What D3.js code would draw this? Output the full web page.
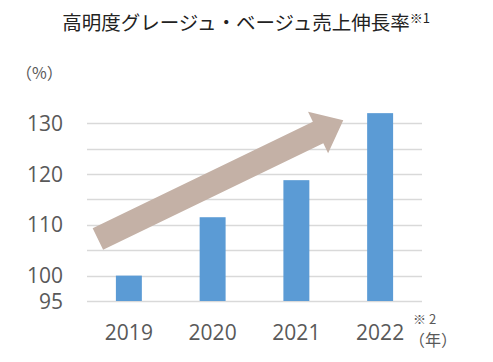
<!DOCTYPE html>
<html><head><meta charset="utf-8">
<script src="https://cdn.jsdelivr.net/npm/d3@7"></script>
<style>body{margin:0;background:#fff}svg{display:block}</style>
</head><body>
<script>
const years = ["2019","2020","2021","2022"];
const values = [100, 111.5, 118.8, 132.0];
const gridTicks = [95,100,105,110,115,120,125,130];
const labelTicks = [95,100,110,120,130];
const title = "高明度グレージュ・ベージュ売上伸長率";
const titleNote = "※1";
const yUnit = "（%）";
const xNote = "※ 2";
const xUnit = "（年）";
// arrow in data coords: [band index position, value]
const arrowFrom = [-0.37, 107.2];
const arrowTo = [2.56, 130.6];

(function(){
const W = 493, H = 362;
const svg = d3.select("body").append("svg").attr("width", W).attr("height", H);
const mLeft = 87, mRight = 422, mTop = 123.3, mBottom = 301;

const x = d3.scaleBand().domain(years).range([mLeft, mRight]).paddingInner(0.69).paddingOuter(0.345);
const y = d3.scaleLinear().domain([95,130]).range([mBottom, mTop]);
const xi = d3.scaleLinear().domain([0, 1]).range([x(years[0]) + x.bandwidth()/2, x(years[1]) + x.bandwidth()/2]);

// grid
svg.append("g").selectAll("line").data(gridTicks).join("line")
  .attr("x1", mLeft).attr("x2", mRight)
  .attr("y1", d => Math.round(y(d)) + 0.5).attr("y2", d => Math.round(y(d)) + 0.5)
  .attr("stroke", "#d9d9d9").attr("stroke-width", 1.5);

// bars
svg.append("g").selectAll("rect").data(values).join("rect")
  .attr("x", (d,i) => x(years[i])).attr("width", x.bandwidth())
  .attr("y", d => y(d)).attr("height", d => y(95) - y(d))
  .attr("fill", "#5b9bd5");

// arrow
{
  const x0 = xi(arrowFrom[0]), y0 = y(arrowFrom[1]);
  const x1 = xi(arrowTo[0]), y1 = y(arrowTo[1]);
  const dx = x1 - x0, dy = y1 - y0, L = Math.hypot(dx, dy);
  const ux = dx/L, uy = dy/L, nx = -uy, ny = ux;
  const sw = 12, hw = 23, hl = 28;
  const bx = x1 - ux*hl, by = y1 - uy*hl;
  const pts = [
    [x0 + nx*sw, y0 + ny*sw],
    [bx + nx*sw, by + ny*sw],
    [bx + nx*hw, by + ny*hw],
    [x1, y1],
    [bx - nx*hw, by - ny*hw],
    [bx - nx*sw, by - ny*sw],
    [x0 - nx*sw, y0 - ny*sw]
  ];
  svg.append("polygon").attr("points", pts.map(p => p.join(",")).join(" "))
    .attr("fill", "#c4b1a6");
}

// y labels
svg.append("g").selectAll("text").data(labelTicks).join("text")
  .attr("x", 63).attr("y", d => y(d)).attr("dy", "0.36em")
  .attr("text-anchor", "end")
  .attr("font-family", "'Open Sans', sans-serif").attr("font-size", 21)
  .attr("fill", "#595959").text(d => d);

// x labels
svg.append("g").selectAll("text").data(years).join("text")
  .attr("x", d => x(d) + x.bandwidth()/2).attr("y", 340)
  .attr("text-anchor", "middle")
  .attr("font-family", "'Open Sans', sans-serif").attr("font-size", 21)
  .attr("fill", "#595959").text(d => d);

// title
const t = svg.append("text").attr("x", 246).attr("y", 30).attr("text-anchor", "middle")
  .attr("font-family", "'Noto Sans CJK JP', sans-serif").attr("font-size", 19.5).attr("fill", "#222");
t.append("tspan").text(title);
t.append("tspan").attr("font-size", 13).attr("dy", -7).text(titleNote);

// unit labels
svg.append("text").attr("x", 16).attr("y", 79)
  .attr("font-family", "'Noto Sans CJK JP', sans-serif").attr("font-size", 16)
  .attr("fill", "#595959").text(yUnit);
svg.append("text").attr("x", 413).attr("y", 324)
  .attr("font-family", "'Noto Sans CJK JP', sans-serif").attr("font-size", 13)
  .attr("fill", "#595959").text(xNote);
svg.append("text").attr("x", 409).attr("y", 346)
  .attr("font-family", "'Noto Sans CJK JP', sans-serif").attr("font-size", 16)
  .attr("fill", "#595959").text(xUnit);
})();
</script>
</body></html>
